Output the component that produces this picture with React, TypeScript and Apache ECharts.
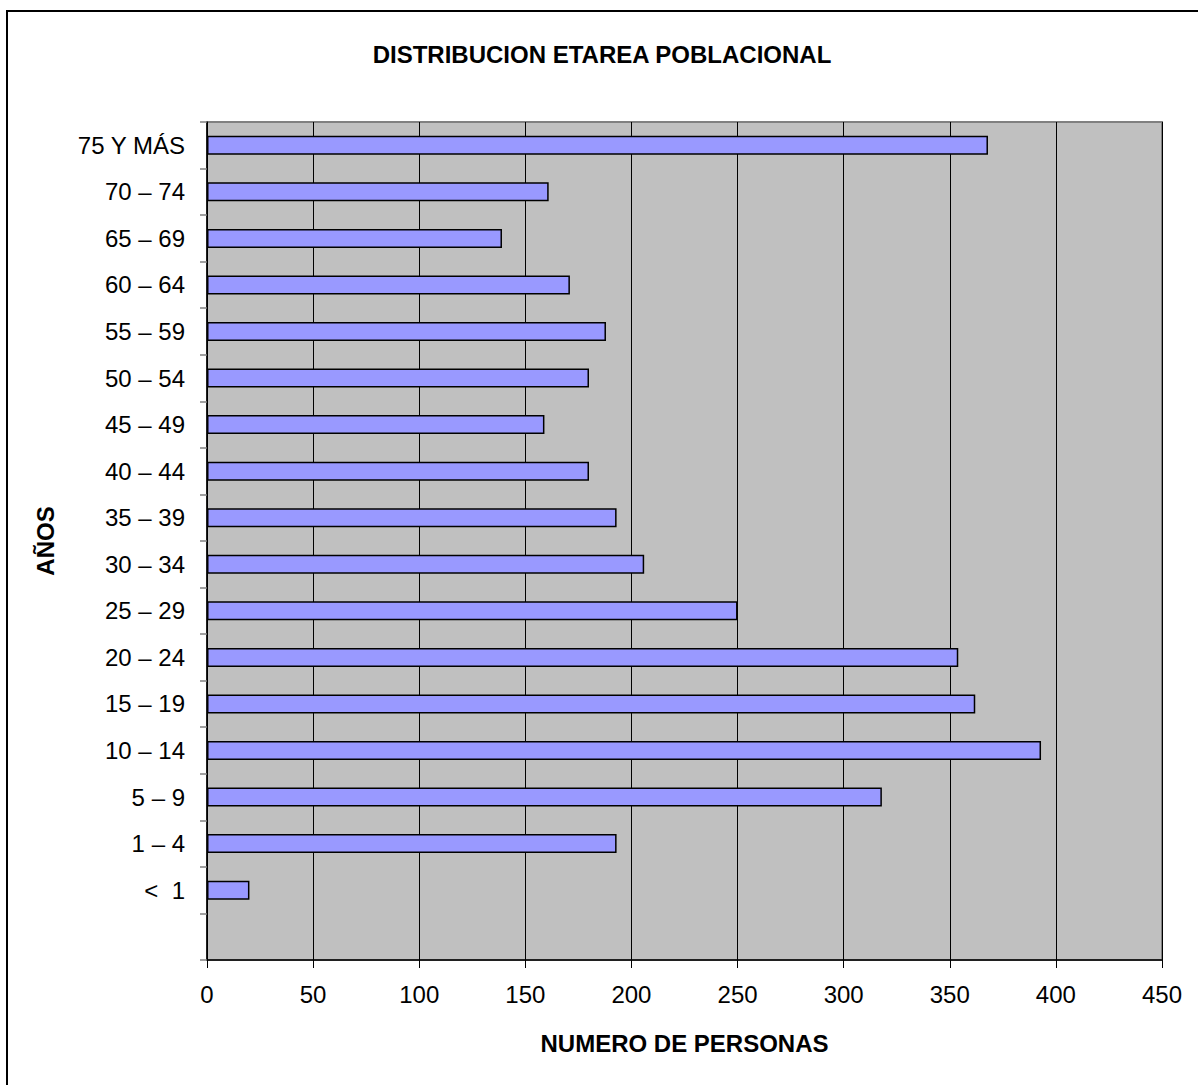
import React, { useEffect, useRef } from "react";
import * as echarts from "echarts";

const categories = [
  "",
  "<  1",
  "1 – 4",
  "5 – 9",
  "10 – 14",
  "15 – 19",
  "20 – 24",
  "25 – 29",
  "30 – 34",
  "35 – 39",
  "40 – 44",
  "45 – 49",
  "50 – 54",
  "55 – 59",
  "60 – 64",
  "65 – 69",
  "70 – 74",
  "75 Y MÁS",
];

const personas: (number | null)[] = [
  null, 20, 193, 318, 393, 362, 354, 250, 206, 193, 180, 159, 180, 188, 171, 139, 161, 368,
];

const xTicks = { min: 0, max: 450, interval: 50 };

const FONT = "'Liberation Sans', Arial, Helvetica, sans-serif";

export default function App() {
  const ref = useRef<HTMLDivElement>(null);

  useEffect(() => {
    if (!ref.current) return;
    const chart = echarts.init(ref.current, null, { renderer: "svg" });
    chart.setOption({
      animation: false,
      backgroundColor: "#ffffff",
      textStyle: { fontFamily: FONT, color: "#000" },
      title: {
        text: "DISTRIBUCION ETAREA POBLACIONAL",
        left: 602,
        textAlign: "center",
        top: 42,
        padding: 0,
        textStyle: { fontFamily: FONT, fontSize: 24, fontWeight: "bold", color: "#000" },
      },
      graphic: [
        {
          type: "rect",
          shape: { x: 7, y: 11, width: 1260, height: 1160 },
          style: { fill: "none", stroke: "#000", lineWidth: 2 },
          silent: true,
          z: 100,
        },
      ],
      grid: {
        left: 207,
        right: 36,
        top: 122,
        bottom: 125,
        show: true,
        backgroundColor: "#C0C0C0",
        borderColor: "#808080",
        borderWidth: 2,
      },
      xAxis: {
        type: "value",
        min: xTicks.min,
        max: xTicks.max,
        interval: xTicks.interval,
        name: "NUMERO DE PERSONAS",
        nameLocation: "middle",
        nameGap: 71,
        nameTextStyle: { fontFamily: FONT, fontSize: 24, fontWeight: "bold", color: "#000" },
        axisLine: { show: true, lineStyle: { color: "#000", width: 1.5 } },
        axisTick: { show: true, length: 8, lineStyle: { color: "#000", width: 1 } },
        axisLabel: { fontFamily: FONT, fontSize: 24, color: "#000", margin: 22 },
        splitLine: { show: true, lineStyle: { color: "#000", width: 1 } },
      },
      yAxis: {
        type: "category",
        data: categories,
        name: "AÑOS",
        nameLocation: "middle",
        nameRotate: 90,
        nameGap: 150,
        nameTextStyle: { fontFamily: FONT, fontSize: 24, fontWeight: "bold", color: "#000" },
        axisLine: { show: true, lineStyle: { color: "#000", width: 1.5 } },
        axisTick: { show: true, length: 7, lineStyle: { color: "#808080", width: 1.5 } },
        axisLabel: { fontFamily: FONT, fontSize: 24, color: "#000", margin: 22 },
        splitLine: { show: false },
      },
      series: [
        {
          type: "bar",
          data: personas,
          barWidth: 19,
          itemStyle: { color: "#9999FF", borderColor: "#000", borderWidth: 1.5 },
        },
      ],
    });
    return () => chart.dispose();
  }, []);

  return (
    <div
      ref={ref}
      style={{ position: "absolute", left: 0, top: 0, width: 1198, height: 1085 }}
    />
  );
}
